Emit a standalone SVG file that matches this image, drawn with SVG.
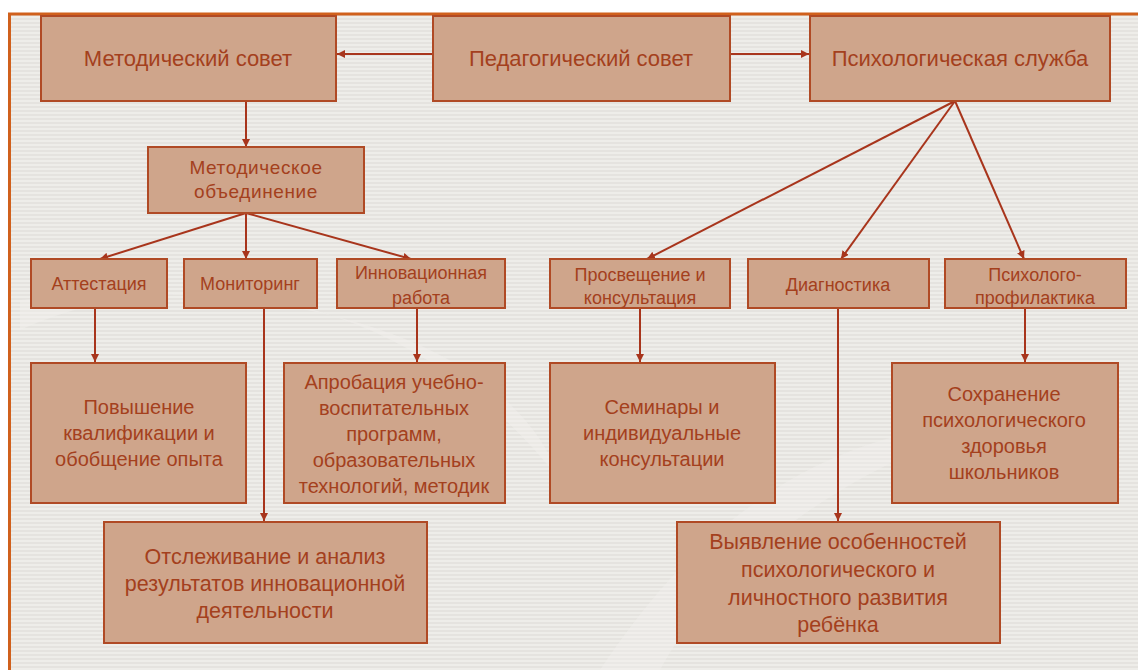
<svg xmlns="http://www.w3.org/2000/svg" width="1138" height="670" viewBox="0 0 1138 670">
  <defs>
    <pattern id="stripes" width="8" height="4" patternUnits="userSpaceOnUse">
      <rect width="8" height="4" fill="#eeede9"/>
      <rect y="2" width="8" height="2" fill="#e5e3df"/>
    </pattern>
    <marker id="ah" viewBox="0 0 10 10" refX="10" refY="5" markerWidth="8" markerHeight="8" markerUnits="userSpaceOnUse" orient="auto">
      <path d="M0,0 L10,5 L0,10 z" fill="#a8351c"/>
    </marker>
    <style>
      .box { fill: #cfa58b; stroke: #b04a25; stroke-width: 2; }
      .t { font-family: "Liberation Sans", Arial, sans-serif; fill: #a4401d; text-anchor: middle; }
      .t1 { font-size: 22px; }
      .t2 { font-size: 18px; }
      .tm { font-size: 19px; letter-spacing: 0.6px; }
      .t3 { font-size: 20px; }
      .t4 { font-size: 21.5px; }
      .c { stroke: #a8351c; stroke-width: 2; fill: none; marker-end: url(#ah); }
    </style>
  </defs>

  <rect width="1138" height="670" fill="#ffffff"/>
  <rect x="8" y="14" width="1130" height="656" fill="url(#stripes)"/>
  <path d="M20,330 C200,250 420,300 560,480 C520,360 330,270 20,300 z" fill="#f2f0ed" opacity="0.45"/>
  <path d="M600,670 C700,520 820,430 1000,420 C840,470 720,560 660,670 z" fill="#f2f0ed" opacity="0.4"/>
  <line x1="8" y1="14" x2="1138" y2="14" stroke="#d0601c" stroke-width="3"/>
  <line x1="9.5" y1="14" x2="9.5" y2="670" stroke="#d0601c" stroke-width="3"/>

  <g id="connectors">
    <line class="c" x1="433" y1="54" x2="337" y2="54"/>
    <line class="c" x1="730" y1="54" x2="809" y2="54"/>
    <line class="c" x1="246" y1="101" x2="246" y2="147"/>
    <line class="c" x1="246" y1="213" x2="100" y2="259"/>
    <line class="c" x1="246" y1="213" x2="246" y2="259"/>
    <line class="c" x1="246" y1="213" x2="411" y2="259"/>
    <line class="c" x1="95" y1="308" x2="95" y2="362"/>
    <line class="c" x1="264" y1="308" x2="264" y2="521"/>
    <line class="c" x1="417" y1="308" x2="417" y2="362"/>
    <line class="c" x1="955" y1="101" x2="647" y2="259"/>
    <line class="c" x1="955" y1="101" x2="841" y2="259"/>
    <line class="c" x1="955" y1="101" x2="1024" y2="259"/>
    <line class="c" x1="640" y1="308" x2="640" y2="362"/>
    <line class="c" x1="838" y1="308" x2="838" y2="521"/>
    <line class="c" x1="1025" y1="308" x2="1025" y2="362"/>
  </g>

  <g id="metod-sovet">
    <rect class="box" x="41" y="16" width="295" height="85"/>
    <text class="t t1" x="188" y="66">Методический совет</text>
  </g>
  <g id="ped-sovet">
    <rect class="box" x="433" y="16" width="297" height="85"/>
    <text class="t t1" x="581" y="66">Педагогический совет</text>
  </g>
  <g id="psych-sluzhba">
    <rect class="box" x="810" y="16" width="300" height="85"/>
    <text class="t t1" x="960" y="66">Психологическая служба</text>
  </g>
  <g id="metod-obyed">
    <rect class="box" x="148" y="147" width="216" height="66"/>
    <text class="t tm" x="256" y="174">Методическое</text>
    <text class="t tm" x="256" y="198">объединение</text>
  </g>
  <g id="attestatsiya">
    <rect class="box" x="31" y="259" width="136" height="49"/>
    <text class="t t2" x="99" y="290">Аттестация</text>
  </g>
  <g id="monitoring">
    <rect class="box" x="184" y="259" width="133" height="49"/>
    <text class="t t2" x="250" y="290">Мониторинг</text>
  </g>
  <g id="innov-rabota">
    <rect class="box" x="337" y="259" width="168" height="49"/>
    <text class="t t2" x="421" y="279">Инновационная</text>
    <text class="t t2" x="421" y="304">работа</text>
  </g>
  <g id="prosveshchenie">
    <rect class="box" x="550" y="259" width="180" height="49"/>
    <text class="t t2" x="640" y="281">Просвещение и</text>
    <text class="t t2" x="640" y="304">консультация</text>
  </g>
  <g id="diagnostika">
    <rect class="box" x="748" y="259" width="181" height="49"/>
    <text class="t t2" x="838" y="291">Диагностика</text>
  </g>
  <g id="psych-profilaktika">
    <rect class="box" x="945" y="259" width="181" height="49"/>
    <text class="t t2" x="1035" y="281">Психолого-</text>
    <text class="t t2" x="1035" y="304">профилактика</text>
  </g>
  <g id="povyshenie">
    <rect class="box" x="31" y="363" width="215" height="140"/>
    <text class="t t3" x="139" y="414">Повышение</text>
    <text class="t t3" x="139" y="440">квалификации и</text>
    <text class="t t3" x="139" y="466">обобщение опыта</text>
  </g>
  <g id="aprobatsiya">
    <rect class="box" x="284" y="363" width="221" height="140"/>
    <text class="t t3" x="394" y="389">Апробация учебно-</text>
    <text class="t t3" x="394" y="415">воспитательных</text>
    <text class="t t3" x="394" y="441">программ,</text>
    <text class="t t3" x="394" y="467">образовательных</text>
    <text class="t t3" x="394" y="493">технологий, методик</text>
  </g>
  <g id="seminary">
    <rect class="box" x="550" y="363" width="225" height="140"/>
    <text class="t t3" x="662" y="414">Семинары и</text>
    <text class="t t3" x="662" y="440">индивидуальные</text>
    <text class="t t3" x="662" y="466">консультации</text>
  </g>
  <g id="sokhranenie">
    <rect class="box" x="892" y="363" width="226" height="140"/>
    <text class="t t3" x="1004" y="401">Сохранение</text>
    <text class="t t3" x="1004" y="427">психологического</text>
    <text class="t t3" x="1004" y="453">здоровья</text>
    <text class="t t3" x="1004" y="479">школьников</text>
  </g>
  <g id="otslezhivanie">
    <rect class="box" x="104" y="522" width="323" height="121"/>
    <text class="t t4" x="265" y="564">Отслеживание и анализ</text>
    <text class="t t4" x="265" y="591">результатов инновационной</text>
    <text class="t t4" x="265" y="618">деятельности</text>
  </g>
  <g id="vyyavlenie">
    <rect class="box" x="677" y="522" width="323" height="121"/>
    <text class="t t4" x="838" y="549">Выявление особенностей</text>
    <text class="t t4" x="838" y="577">психологического и</text>
    <text class="t t4" x="838" y="605">личностного развития</text>
    <text class="t t4" x="838" y="632">ребёнка</text>
  </g>
</svg>
